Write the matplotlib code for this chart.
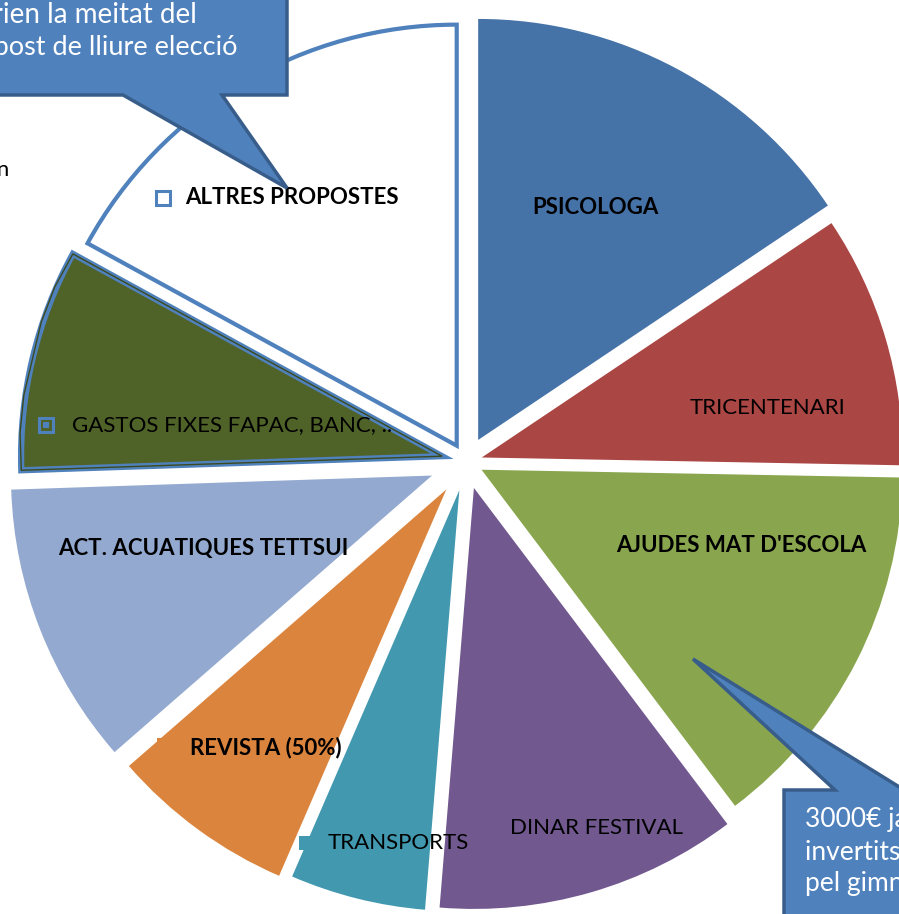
import matplotlib.pyplot as plt
from matplotlib.patches import Polygon, Rectangle

plt.rcParams['font.family'] = ['Lato', 'DejaVu Sans']

labels = ['PSICOLOGA', 'TRICENTENARI', "AJUDES MAT D'ESCOLA", 'DINAR FESTIVAL',
          'TRANSPORTS', 'REVISTA (50%)', 'ACT. ACUATIQUES TETTSUI',
          'GASTOS FIXES FAPAC, BANC, ..', 'ALTRES PROPOSTES']
values = [3300, 2050, 3050, 2450, 1100, 1500, 2300, 1800, 3600]
colors = ['#4572A7', '#AA4643', '#89A54E', '#71588F', '#4198AF',
          '#DB843D', '#93A9CF', '#4F6228', '#FFFFFF']
bold = [True, False, True, False, False, True, True, False, True]
# how far each slice is pulled out (pixels)
explode = [25, 16, 17, 27, 29, 34, 37, 25, 19]

W, H = 899, 914
fig = plt.figure(figsize=(W / 100, H / 100), dpi=100)
ax = fig.add_axes([0, 0, 1, 1])

def Y(y):
    return H - y

wedges, _ = ax.pie(values, colors=colors, explode=explode,
                   startangle=90, counterclock=False, center=(466.4, Y(462)),
                   radius=421, wedgeprops=dict(linewidth=0))

# white slice with blue outline
wedges[8].set_edgecolor('#4F81BD')
wedges[8].set_linewidth(3)
# olive slice with double outline
wedges[7].set_edgecolor('#4F81BD')
wedges[7].set_linewidth(4.5)
inner = Polygon(wedges[7].get_path().vertices, closed=True, fill=False,
                edgecolor='#3B4A1E', linewidth=1.0, zorder=wedges[7].zorder + 0.1)
ax.add_patch(inner)

# labels
label_pos = [(595, 208), (767, 408), (741, 546), (597, 828), (398, 843),
             (266, 748), (203, 549), (232, 425), (292, 198)]
for lab, (x, y), b in zip(labels, label_pos, bold):
    ax.text(x, Y(y), lab, ha='center', va='center', fontsize=16,
            fontweight='bold' if b else 'normal', color='black', zorder=10)

# legend-key squares
def key(x, y, face, edge, lw=0):
    ax.add_patch(Rectangle((x - 7, Y(y) - 7), 14, 14, facecolor=face,
                           edgecolor=edge, linewidth=lw, zorder=9))

key(163, 198, 'white', '#4F81BD', 2.2)
key(46, 425, '#4F6228', '#4F81BD', 2.2)
ax.add_patch(Rectangle((43, Y(425) - 3), 6, 6, facecolor='#4F81BD', zorder=9.5))
key(306, 843, '#4198AF', '#4198AF')
key(164, 745, '#DB843D', '#DB843D')

# partially hidden text at left edge
ax.text(9, Y(170), 'Decisió en', ha='right', va='center', fontsize=16,
        color='black', zorder=10)

# callout top-left
c1 = [(-20, Y(-20)), (287, Y(-20)), (287, Y(95)), (222, Y(95)), (287, Y(188)),
      (123, Y(95)), (-20, Y(95))]
ax.add_patch(Polygon(c1, closed=True, facecolor='#4F81BD', edgecolor='#385D8A',
                     linewidth=2.5, joinstyle='miter', zorder=20))
ax.text(197, Y(15), 'Es destinarien la meitat del', ha='right', va='center',
        fontsize=20, color='white', zorder=21)
ax.text(238, Y(47), 'pressupost de lliure elecció', ha='right', va='center',
        fontsize=19.5, color='white', zorder=21)

# callout bottom-right
c2 = [(784, Y(790)), (835, Y(790)), (693, Y(659)), (930, Y(806)),
      (930, Y(940)), (784, Y(940))]
ax.add_patch(Polygon(c2, closed=True, facecolor='#4F81BD', edgecolor='#385D8A',
                     linewidth=2.5, joinstyle='miter', zorder=20))
for i, line in enumerate(['3000€ ja', 'invertits en', 'pel gimnàs']):
    ax.text(805, Y(820 + 32 * i), line, ha='left', va='center', fontsize=19,
            color='white', zorder=21)

ax.set_xlim(0, W)
ax.set_ylim(0, H)
ax.set_aspect('equal')
ax.axis('off')

plt.savefig('out.png', dpi=100)
